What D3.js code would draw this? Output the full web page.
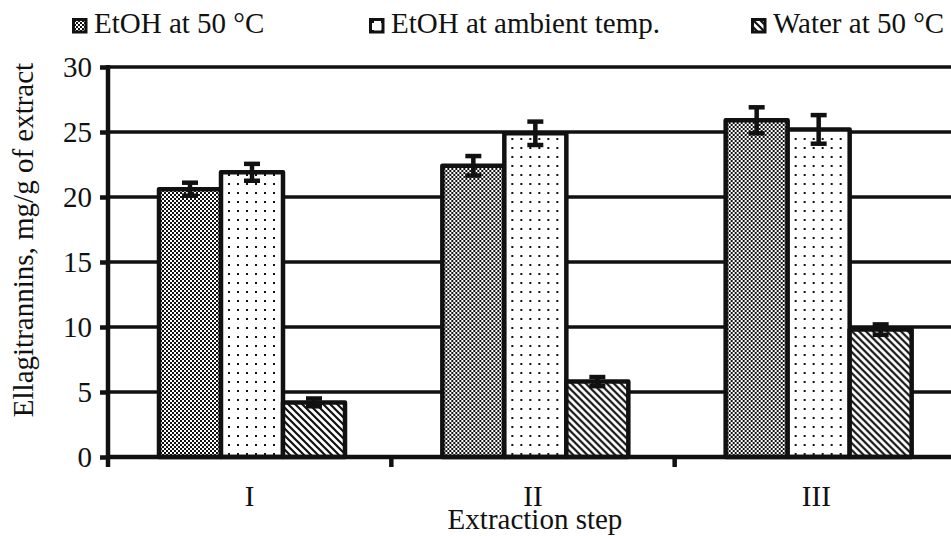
<!DOCTYPE html>
<html>
<head>
<meta charset="utf-8">
<script src="https://cdn.jsdelivr.net/npm/d3@7"></script>
<style>
  body { margin: 0; background: #fff; }
  svg { display: block; }
  text { font-family: "Liberation Serif", "Times New Roman", serif; fill: #111; }
</style>
</head>
<body>
<svg id="chart" width="951" height="536"></svg>
<script>
// Extraction steps and ellagitannin yields (mg/g of extract)
const steps = ["I", "II", "III"];
const seriesNames = ["EtOH at 50 °C", "EtOH at ambient temp.", "Water at 50 °C"];
const etoh50 = [20.6, 22.4, 25.9];
const etohAmbient = [21.9, 24.9, 25.2];
const water50 = [4.2, 5.8, 9.8];
const etoh50Err = [0.5, 0.75, 1.0];
const etohAmbientErr = [0.65, 0.9, 1.1];
const water50Err = [0.3, 0.35, 0.4];
const yTicks = [0, 5, 10, 15, 20, 25, 30];

const seriesValues = [etoh50, etohAmbient, water50];
const seriesErrors = [etoh50Err, etohAmbientErr, water50Err];
const patternIds = ["pat-check", "pat-dots", "pat-diag"];
const FONT = 29;

const svg = d3.select("#chart");
const defs = svg.append("defs");

// Fine checkerboard fill
const pc = defs.append("pattern").attr("id", "pat-check")
  .attr("patternUnits", "userSpaceOnUse").attr("width", 4).attr("height", 4);
pc.append("rect").attr("width", 4).attr("height", 4).attr("fill", "#fff");
pc.append("rect").attr("width", 2).attr("height", 2).attr("fill", "#111");
pc.append("rect").attr("x", 2).attr("y", 2).attr("width", 2).attr("height", 2).attr("fill", "#111");

// Sparse dot fill
const pd = defs.append("pattern").attr("id", "pat-dots")
  .attr("patternUnits", "userSpaceOnUse").attr("width", 9).attr("height", 9);
pd.append("rect").attr("width", 9).attr("height", 9).attr("fill", "#fff");
pd.append("rect").attr("x", 3).attr("y", 3).attr("width", 2).attr("height", 2).attr("fill", "#111");

// Diagonal hatch (top-left to bottom-right)
const ph = defs.append("pattern").attr("id", "pat-diag")
  .attr("patternUnits", "userSpaceOnUse").attr("width", 7).attr("height", 7);
ph.append("rect").attr("width", 7).attr("height", 7).attr("fill", "#fff");
ph.append("path").attr("d", "M-1,-1 L8,8 M-4,3 L4,11 M3,-4 L11,4")
  .attr("stroke", "#111").attr("stroke-width", 2.2);

const plotLeft = 108, plotTop = 67, plotBottom = 457;

const y = d3.scaleLinear().domain([0, 30]).range([plotBottom, plotTop]);
const x0 = d3.scaleBand().domain(steps).range([plotLeft, 958]).padding(0);
const x1 = d3.scaleBand().domain(d3.range(seriesNames.length))
  .range([51, 237]).padding(0);

// Horizontal gridlines
svg.append("g").selectAll("line").data(yTicks.filter(d => d > 0)).join("line")
  .attr("x1", plotLeft).attr("x2", 951)
  .attr("y1", d => y(d)).attr("y2", d => y(d))
  .attr("stroke", "#111").attr("stroke-width", 3.5);

// Bars with error bars
const groups = svg.append("g").selectAll("g").data(steps).join("g")
  .attr("transform", d => `translate(${x0(d)},0)`);

groups.each(function(step, i) {
  const g = d3.select(this);
  seriesValues.forEach((vals, s) => {
    g.append("rect")
      .attr("x", x1(s)).attr("width", x1.bandwidth())
      .attr("y", y(vals[i])).attr("height", y(0) - y(vals[i]))
      .attr("fill", `url(#${patternIds[s]})`)
      .attr("stroke", "#111").attr("stroke-width", 4.5)
      .attr("stroke-linejoin", "round");
  });
  seriesValues.forEach((vals, s) => {
    const cx = x1(s) + x1.bandwidth() / 2;
    const hi = y(vals[i] + seriesErrors[s][i]);
    const lo = y(vals[i] - seriesErrors[s][i]);
    g.append("line").attr("x1", cx).attr("x2", cx).attr("y1", hi).attr("y2", lo)
      .attr("stroke", "#111").attr("stroke-width", 4.5);
    [hi, lo].forEach(yy => g.append("line")
      .attr("x1", cx - 8).attr("x2", cx + 8).attr("y1", yy).attr("y2", yy)
      .attr("stroke", "#111").attr("stroke-width", 4.5));
  });
});

// Y axis
const yAxis = svg.append("g").attr("transform", `translate(${plotLeft},0)`)
  .call(d3.axisLeft(y).tickValues(yTicks).tickSize(8).tickPadding(8));
yAxis.select(".domain").attr("stroke", "#111").attr("stroke-width", 4.5)
  .attr("d", `M0,${plotTop - 2}V${plotBottom + 2}`);
yAxis.selectAll(".tick line").attr("stroke", "#111").attr("stroke-width", 4.5);
yAxis.selectAll(".tick text")
  .style("font-size", FONT + "px")
  .style("font-family", "'Liberation Serif', serif").attr("fill", "#111");

// X axis
const xAxisG = svg.append("g").attr("transform", `translate(0,${plotBottom})`);
xAxisG.append("line").attr("x1", plotLeft - 2).attr("x2", 951)
  .attr("y1", 0).attr("y2", 0).attr("stroke", "#111").attr("stroke-width", 4.5);
xAxisG.selectAll("line.tk").data(steps).join("line").attr("class", "tk")
  .attr("x1", d => x0(d)).attr("x2", d => x0(d)).attr("y1", 0).attr("y2", 10)
  .attr("stroke", "#111").attr("stroke-width", 4.5);
xAxisG.selectAll("text").data(steps).join("text")
  .attr("x", d => x0(d) + x0.bandwidth() / 2).attr("y", 49)
  .attr("text-anchor", "middle").style("font-size", FONT + "px").text(d => d);

// Axis titles
svg.append("text").attr("x", 535).attr("y", 529).attr("text-anchor", "middle")
  .style("font-size", FONT + "px").text("Extraction step");
svg.append("text").attr("transform", "translate(33,240) rotate(-90)")
  .attr("text-anchor", "middle").style("font-size", FONT + "px")
  .text("Ellagitrannins, mg/g of extract");

// Legend
const legendX = [72, 369, 751];
const legend = svg.append("g").selectAll("g").data(seriesNames).join("g")
  .attr("transform", (d, i) => `translate(${legendX[i]},18)`);
legend.append("rect").attr("x", 1.5).attr("y", 1.5).attr("width", 12.5).attr("height", 12.5)
  .attr("fill", (d, i) => `url(#${patternIds[i]})`)
  .attr("stroke", "#111").attr("stroke-width", 3);
legend.append("text").attr("x", 22).attr("y", 15).style("font-size", FONT + "px")
  .text(d => d);
</script>
</body>
</html>
